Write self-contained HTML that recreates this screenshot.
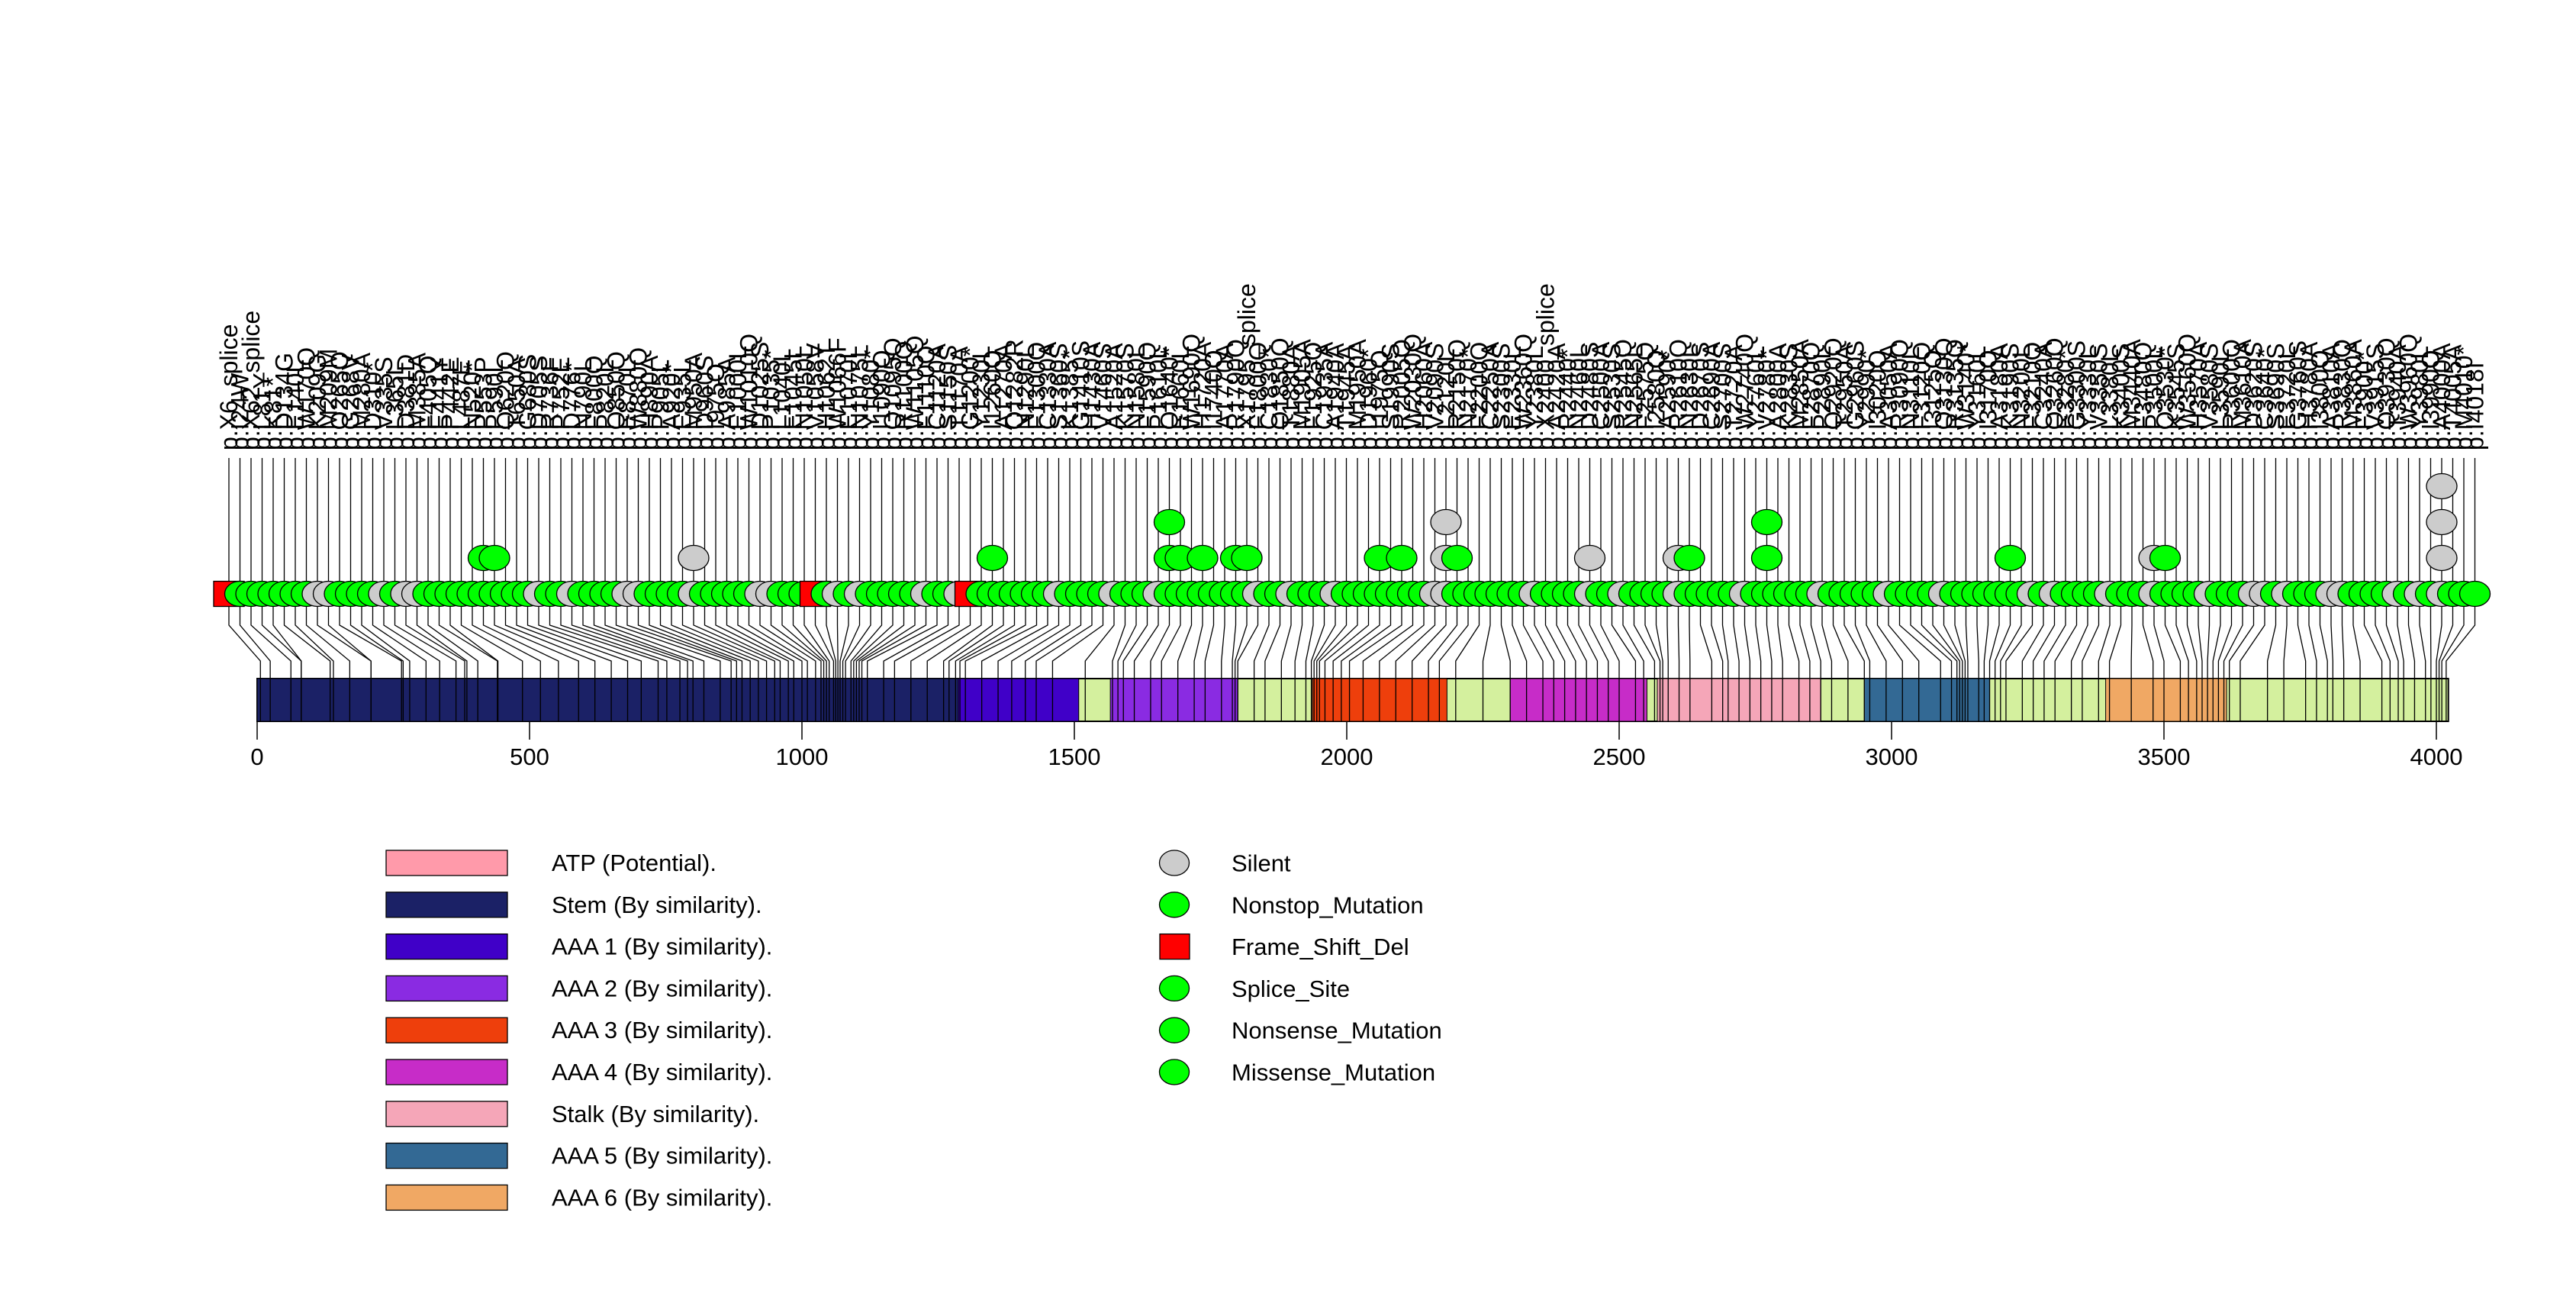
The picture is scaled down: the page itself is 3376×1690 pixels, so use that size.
<!DOCTYPE html>
<html><head><meta charset="utf-8"><style>
html,body{margin:0;padding:0;background:#fff;}
svg{display:block;font-family:"Liberation Sans",sans-serif;}
</style></head><body>
<svg id="chart" width="3376" height="1690" viewBox="0 0 3376 1690" xmlns="http://www.w3.org/2000/svg">
<g id="labels"></g>
<g id="stems"></g>
<g id="domains"></g>
<g id="connectors"></g>
<g id="heads"></g>
<g id="axis"></g>
<g id="legend"></g>
</svg>
<script>
const positions = [6,24,62,81,81,134,140,170,209,209,265,268,280,310,335,365,381,385,405,441,442,487,520,553,590,620,650,680,705,736,752,776,790,800,820,850,870,880,890,905,920,935,950,960,975,985,1000,1010,1025,1035,1040,1045,1050,1058,1062,1066,1070,1075,1080,1090,
1095,1100,1105,1110,1120,1150,1170,1200,1230,1260,1270,1282,1290,1300,1330,1360,1385,1410,1430,1460,1520,1570,1580,1590,1610,1640,1660,1690,1720,1740,
1770,1790,1795,1800,1830,1850,1880,1905,1925,1935,1940,1945,1950,1960,1975,1990,2005,2030,2060,2090,2120,2150,2170,2200,2250,2300,2330,2360,2380,2400,
2420,2440,2460,2480,2500,2530,2545,2565,2575,2580,2590,2610,2630,2670,2690,2700,2720,2740,2760,2780,2800,2830,2850,2870,2890,2920,2950,2960,2990,3020,
3050,3090,3110,3120,3125,3130,3135,3140,3160,3170,3180,3190,3200,3210,3240,3260,3280,3300,3330,3350,3380,3400,3440,3480,3500,3530,3545,3560,3570,3580,
3590,3600,3610,3620,3640,3690,3720,3760,3780,3800,3810,3830,3860,3900,3915,3930,3940,3960,3980,3990,4000,4005,4010,4018];
const silentIdx = [8,9,14,16,17,28,31,36,37,42,48,49,55,57,63,66,75,80,84,93,96,100,109,110,118,123,126,131,137,144,150,155,163,165,170,174,179,183,184,186,190,191,196,198,200];
const frameshiftIdx = [0,53,67];
const spliceIdx = [0,2,92,119];
const stackIdx = [23,24,42,69,85,86,88,91,92,104,106,110,111,123,131,132,139,161,174,175,200];
const stackCounts = [2,2,2,2,3,2,2,2,2,2,2,3,2,2,2,2,3,2,2,2,4];
const domainNames = ["Stem","AAA 1","AAA 2","AAA 3","AAA 4","Stalk","AAA 5","AAA 6"];
const domainStarts = [0,1287,1566,1937,2300,2570,2950,3393];
const domainEnds = [1287,1508,1800,2184,2551,2870,3180,3615];
const proteinLength = 4022;
const tickValues = [0,500,1000,1500,2000,2500,3000,3500,4000];

const NS="http://www.w3.org/2000/svg";
function mk(t,a,p){const e=document.createElementNS(NS,t);for(const k in a)e.setAttribute(k,a[k]);p.appendChild(e);return e;}
const xs=v=>337+v*0.714;
const layoutX=i=>300+i*14.5;
const levelY=l=>778-l*47;
const domainColors={"Stem":"#1b2166","AAA 1":"#4000c8","AAA 2":"#8a2be2","AAA 3":"#ee3f0c","AAA 4":"#c72cc8","Stalk":"#f5a6b8","AAA 5":"#336994","AAA 6":"#f0a864"};
const AA="ARNDCQEGHILKMFPSTWYV";

const gL=document.getElementById('labels'),gS=document.getElementById('stems'),gD=document.getElementById('domains'),gC=document.getElementById('connectors'),gH=document.getElementById('heads'),gA=document.getElementById('axis'),gG=document.getElementById('legend');

let base=mk('rect',{x:xs(0),y:889,width:xs(proteinLength)-xs(0),height:56,fill:"#d4f09e",stroke:"#000","stroke-width":2},gD);


domainNames.forEach((n,k)=>{
  const r=mk('rect',{x:xs(domainStarts[k]),y:889,width:xs(domainEnds[k])-xs(domainStarts[k]),height:56,fill:domainColors[n],stroke:"#000","stroke-width":1},gD);
  
  
});

positions.forEach((p,i)=>{
  const lx=layoutX(i), px=xs(p);
  const label=spliceIdx.includes(i)?('p.X'+p+'_splice'):('p.'+AA[(p*7+i)%20]+p+(i%9==4?'*':AA[(p*3+i*5)%20]));
  const t=mk('text',{x:0,y:0,transform:`translate(${lx+11},590) rotate(-90)`,"font-size":32,fill:"#000"},gL);
  t.textContent=label;
  
  
  mk('line',{x1:lx,y1:600,x2:lx,y2:778,stroke:"#000","stroke-width":1.3},gS);
  const c=mk('polyline',{points:`${lx},795 ${lx},819 ${px},866 ${px},945`,fill:"none",stroke:"#000","stroke-width":1.3},gC);
  
  
});
positions.forEach((p,i)=>{
  const lx=layoutX(i);
  const si=stackIdx.indexOf(i); const cnt=si>=0?stackCounts[si]:1;
  const isFs=frameshiftIdx.includes(i), isS=silentIdx.includes(i);
  for(let l=cnt-1;l>=0;l--){
    const y=levelY(l);
    let h;
    if(isFs&&l==0){h=mk('rect',{x:lx-20,y:y-16.5,width:40,height:33,fill:"#ff0000",stroke:"#000","stroke-width":1.3},gH);}
    else h=mk('ellipse',{cx:lx,cy:y,rx:20,ry:16.5,fill:isS?"#cccccc":"#00ff00",stroke:"#000","stroke-width":1.3},gH);
    
    
  }
});
tickValues.forEach(v=>{
  mk('line',{x1:xs(v),y1:945,x2:xs(v),y2:969,stroke:"#000","stroke-width":1.5},gA);
  const t=mk('text',{x:xs(v),y:1002,"font-size":31,"text-anchor":"middle",fill:"#000"},gA);
  t.textContent=v;
  
  
});
const legDom=[["ATP (Potential).","#ff9aaa"],["Stem (By similarity).","#1b2166"],["AAA 1 (By similarity).","#4000c8"],["AAA 2 (By similarity).","#8a2be2"],["AAA 3 (By similarity).","#ee3f0c"],["AAA 4 (By similarity).","#c72cc8"],["Stalk (By similarity).","#f5a6b8"],["AAA 5 (By similarity).","#336994"],["AAA 6 (By similarity).","#f0a864"]];
legDom.forEach((d,k)=>{
  const y=1114+k*54.8;
  const r=mk('rect',{x:506,y:y,width:159,height:33,fill:d[1],stroke:"#000","stroke-width":1.3},gG);
  
  
  const t=mk('text',{x:723,y:y+27,"font-size":31,fill:"#000"},gG);
  t.textContent=d[0];
  
  
});
const legMut=[["Silent","#cccccc","c"],["Nonstop_Mutation","#00ff00","c"],["Frame_Shift_Del","#ff0000","r"],["Splice_Site","#00ff00","c"],["Nonsense_Mutation","#00ff00","c"],["Missense_Mutation","#00ff00","c"]];
legMut.forEach((d,k)=>{
  const y=1130.5+k*54.8;
  let m;
  if(d[2]=="r") m=mk('rect',{x:1520,y:y-16.5,width:39,height:33,fill:d[1],stroke:"#000","stroke-width":1.3},gG);
  else m=mk('ellipse',{cx:1539,cy:y,rx:19.5,ry:16.5,fill:d[1],stroke:"#000","stroke-width":1.3},gG);
  
  
  const t=mk('text',{x:1614,y:y+11,"font-size":31,fill:"#000"},gG);
  t.textContent=d[0];
  
  
});
</script>
</body></html>
